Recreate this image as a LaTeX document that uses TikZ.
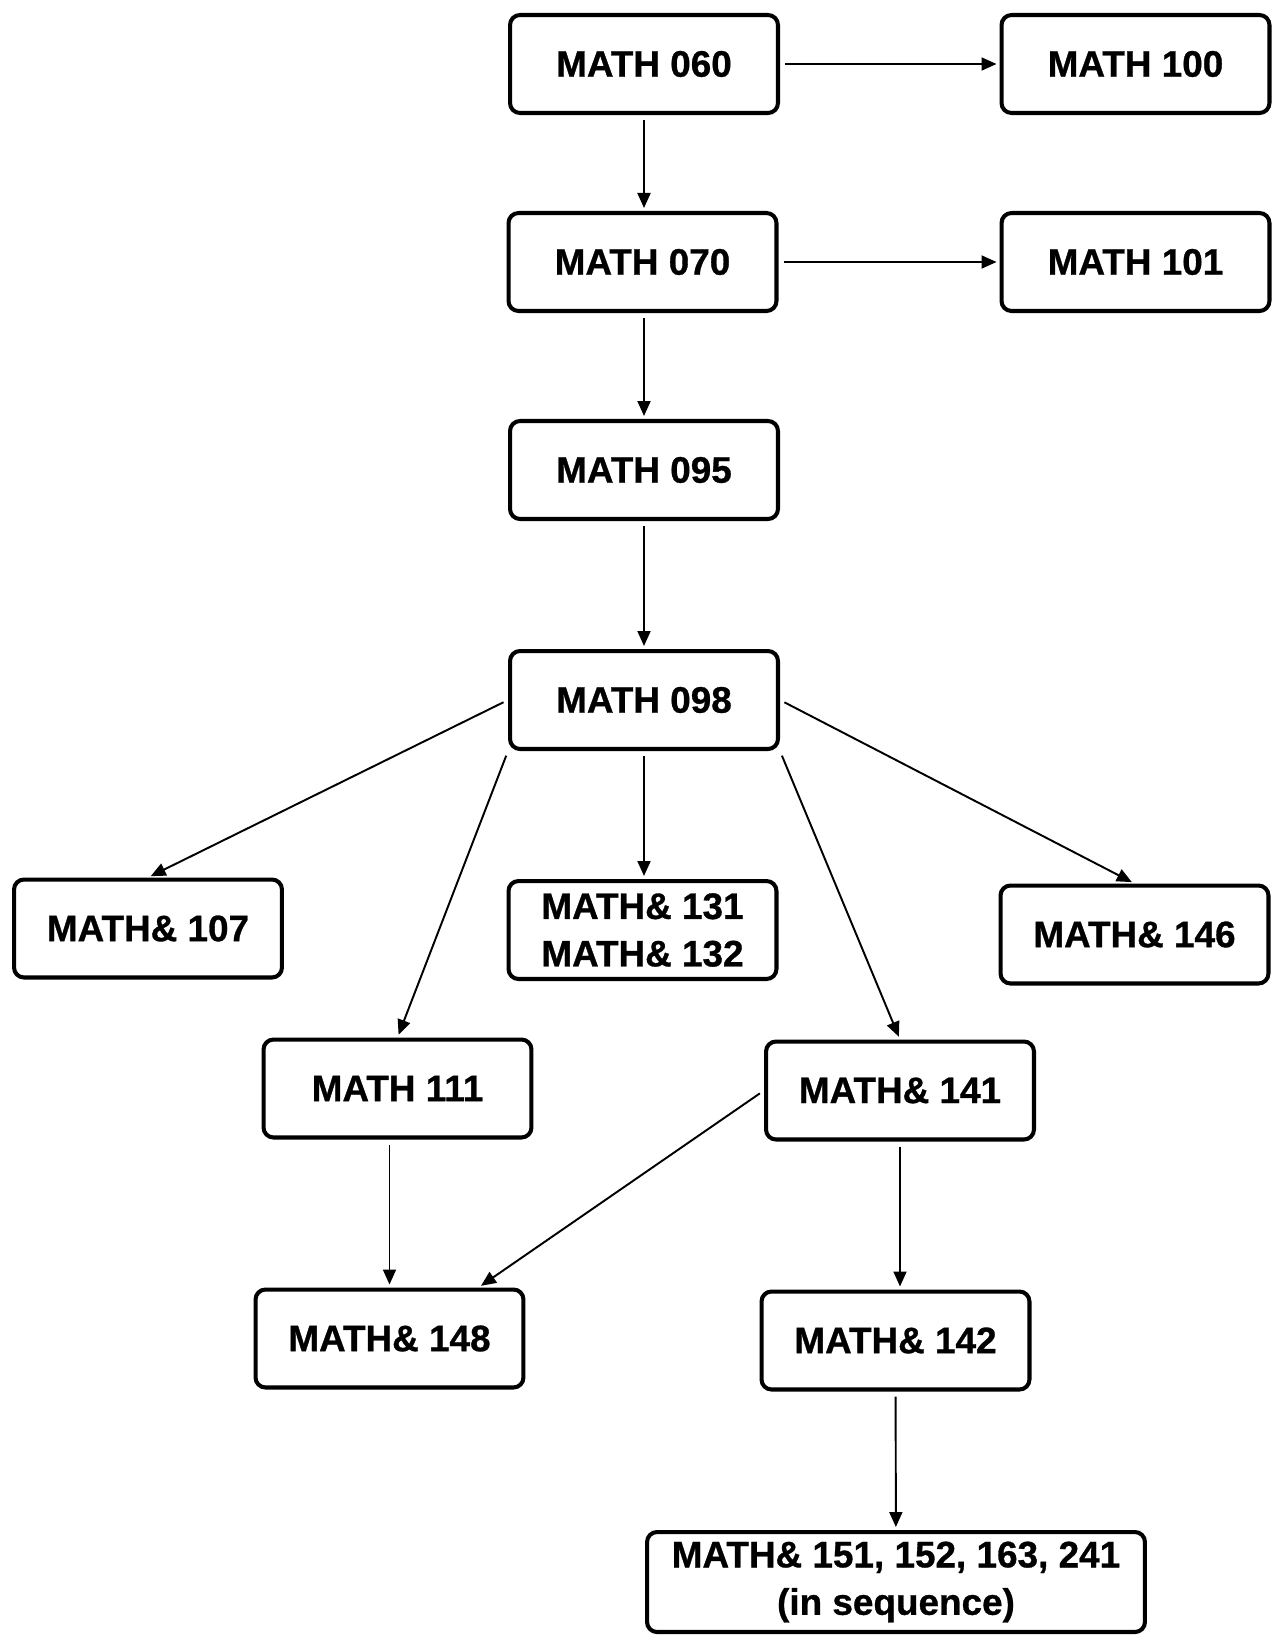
\documentclass[tikz,border=0pt]{standalone}
\usepackage{fontspec}
\setmainfont{Liberation Sans}[BoldFeatures={FakeBold=0.8}]
\usetikzlibrary{arrows.meta}
\newcommand{\coursefont}{\fontsize{21}{27}\selectfont\bfseries}
\tikzset{
  course/.style={draw, rounded corners=0.2cm, line width=2.3pt, minimum width=5.36cm, minimum height=1.96cm, align=center, font=\coursefont, inner sep=2pt},
  link/.style={-{Triangle[length=0.3cm,width=0.26cm]}, line width=1.1pt, shorten >=0.06cm, shorten <=0.1cm}
}
\begin{document}
\begin{tikzpicture}[x=0.02cm,y=-0.02cm]
    \useasboundingbox (0,0) rectangle (1274,1637);
    \node[course] (m060) at (644,64) {MATH 060};
    \node[course] (m100) at (1135.5,64) {MATH 100};
    \node[course] (m070) at (642.5,262) {MATH 070};
    \node[course] (m101) at (1135.5,262) {MATH 101};
    \node[course] (m095) at (644,470) {MATH 095};
    \node[course] (m098) at (644,700) {MATH 098};
    \node[course] (m107) at (148,928.5) {MATH\& 107};
    \node[course] (m131) at (642.5,930) {MATH\& 131\\MATH\& 132};
    \node[course] (m146) at (1134.5,934.5) {MATH\& 146};
    \node[course] (m111) at (397.5,1088.5) {MATH 111};
    \node[course] (m141) at (900,1090.5) {MATH\& 141};
    \node[course] (m148) at (389.5,1338.5) {MATH\& 148};
    \node[course] (m142) at (895.5,1340.5) {MATH\& 142};
    \node[course, minimum width=9.96cm, minimum height=2cm] (m151) at (896,1582) {MATH\& 151, 152, 163, 241\\(in sequence)};
    \draw[link] (m060) -- (m100);
    \draw[link] (m060.south) -- (m060.south |- m070.north);
    \draw[link] (m070) -- (m101);
    \draw[link] (m070.south -| m060.south) -- (m095.north);
    \draw[link] (m095) -- (m098);
    \draw[link] (m098.west) -- (m107.north);
    \draw[link] (m098.south west) -- (m111.north);
    \draw[link] (m098.south) -- (m098.south |- m131.north);
    \draw[link] (m098.south east) -- (m141.north);
    \draw[link] (m098.east) -- (m146.north);
    \draw[link] (m111.south -| m148.north) -- (m148.north);
    \draw[link] (m141.west) -- ([xshift=-0.94cm]m148.north east);
    \draw[link] (m141.south) -- (m141.south |- m142.north);
    \draw[link] (m142) -- (m151);
  \end{tikzpicture}
\end{document}
